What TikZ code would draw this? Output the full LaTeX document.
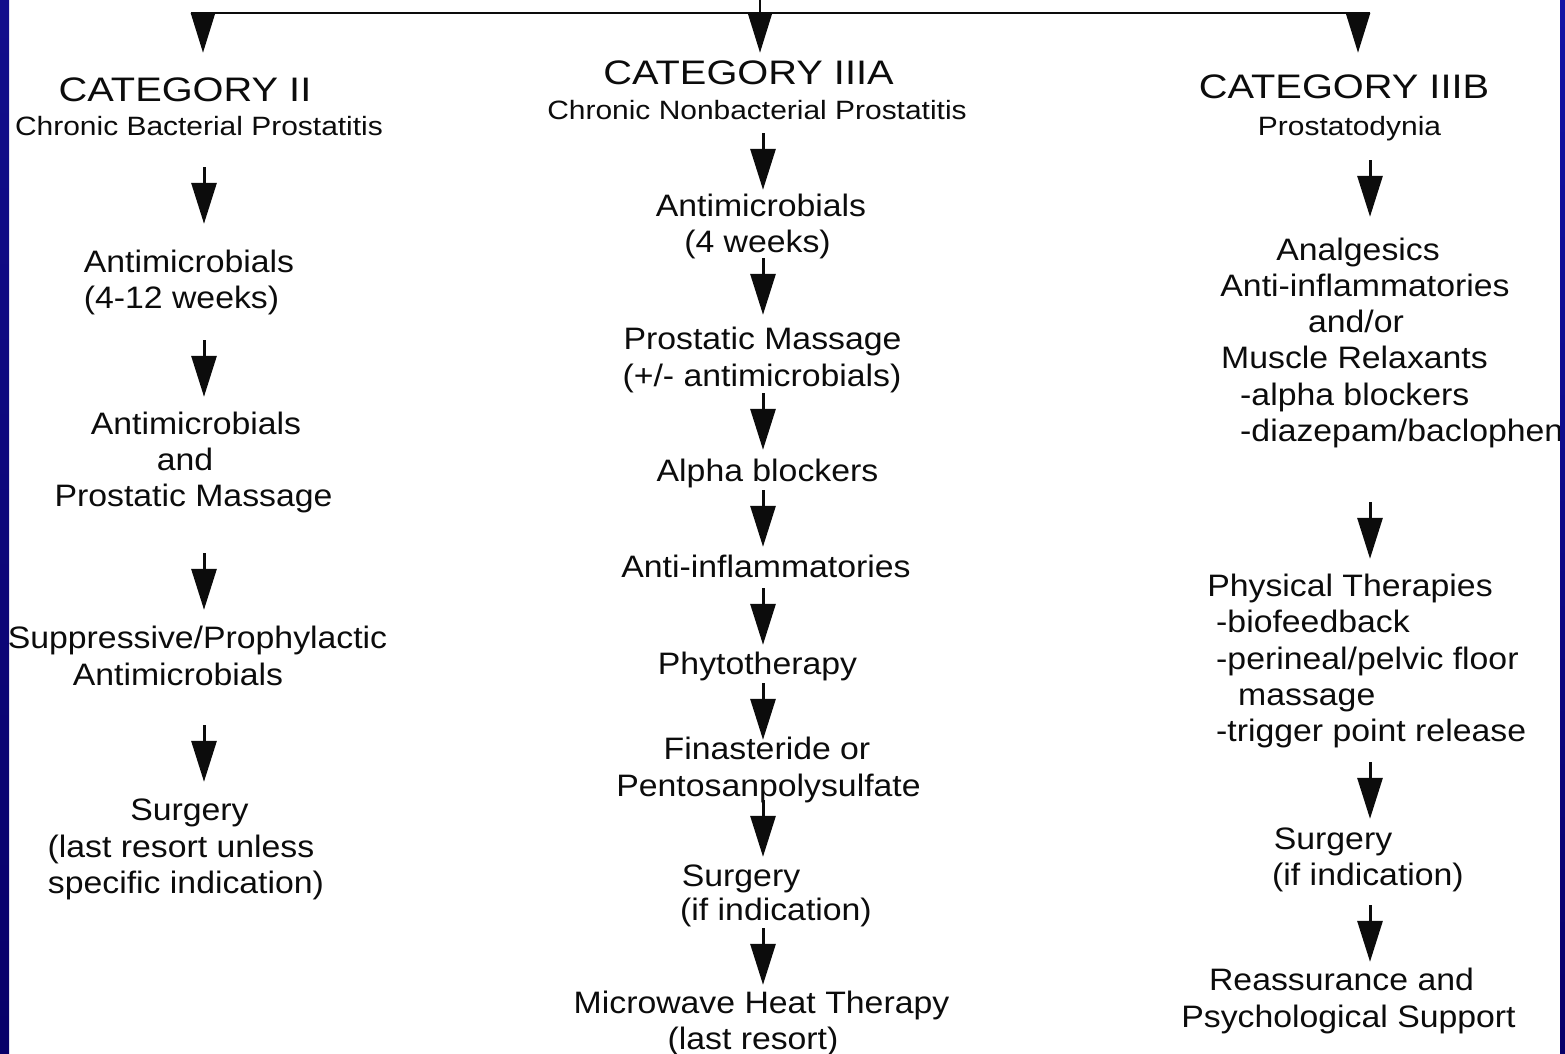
\documentclass[tikz,border=0pt]{standalone}
\usepackage{fontspec}
\setmainfont{Liberation Sans}
\newfontfamily\mainf[FakeStretch=1.09]{Liberation Sans}
\newfontfamily\headf[FakeStretch=1.17]{Liberation Sans}
\newfontfamily\subf[FakeStretch=1.13]{Liberation Sans}
\usetikzlibrary{arrows.meta}
\definecolor{ink}{RGB}{12,12,12}
\definecolor{frameTop}{RGB}{18,14,140}
\definecolor{frameBot}{RGB}{8,0,105}
\definecolor{frameR}{RGB}{20,20,165}
\begin{document}
\begin{tikzpicture}[x=1pt,y=-1pt,
  txt/.style={inner sep=0pt, anchor=base, text height=23pt, text depth=7pt, text=ink,
              font=\mainf\fontsize{31pt}{36pt}\selectfont},
  txtl/.style={txt, anchor=base west},
  head/.style={inner sep=0pt, anchor=base, text height=25pt, text depth=1pt, text=ink,
              font=\headf\fontsize{34pt}{38pt}\selectfont},
  sub/.style={inner sep=0pt, anchor=base, text height=19pt, text depth=5pt, text=ink,
              font=\subf\fontsize{26.5pt}{30pt}\selectfont},
  arr/.style={draw=ink, line width=3pt, -{Triangle[width=25pt,length=41pt]}},
  toparr/.style={draw=ink, line width=2.8pt, -{Triangle[width=24pt,length=40pt]}},
  bus/.style={draw=ink, line width=2.8pt}]
\useasboundingbox (0,0) rectangle (1565,1053);
\fill[white] (0,0) rectangle (1565,1053);

% column axes
\coordinate (X1) at (204,0);
\coordinate (X2) at (763,0);
\coordinate (X3) at (1370,0);

% ---------- column 1 ----------
\node[head] (cat1) at (185,101.7) {CATEGORY II};
\node[sub]  (sub1) at (199,135.5) {Chronic Bacterial Prostatitis};
\node[txt] (c1a1) at (189,272.5) {Antimicrobials};
\node[txt] (c1a2) at (181.5,308.5) {(4-12 weeks)};
\node[txt] (c1b1) at (196,434.5) {Antimicrobials};
\node[txt] (c1b2) at (185,470.5) {and};
\node[txt] (c1b3) at (193.5,506.5) {Prostatic Massage};
\node[txt] (c1c1) at (197.5,648.5) {Suppressive/Prophylactic};
\node[txt] (c1c2) at (178,685.5) {Antimicrobials};
\node[txt] (c1d1) at (189.5,820.5) {Surgery};
\node[txt] (c1d2) at (181,857.5) {(last resort unless};
\node[txt] (c1d3) at (186,893.5) {specific indication)};

% ---------- column 2 ----------
\node[head] (cat2) at (748.5,84.3) {CATEGORY IIIA};
\node[sub]  (sub2) at (757,119) {Chronic Nonbacterial Prostatitis};
\node[txt] (c2a1) at (761,216.5) {Antimicrobials};
\node[txt] (c2a2) at (757.5,252.5) {(4 weeks)};
\node[txt] (c2b1) at (762.5,349.5) {Prostatic Massage};
\node[txt] (c2b2) at (762,386.5) {(+/- antimicrobials)};
\node[txt] (c2c)  at (767.5,481.5) {Alpha blockers};
\node[txt] (c2d)  at (766,577.5) {Anti-inflammatories};
\node[txt] (c2e)  at (757.5,674.5) {Phytotherapy};
\node[txt] (c2f1) at (767,759.5) {Finasteride or};
\node[txt] (c2f2) at (768.5,796.5) {Pentosanpolysulfate};
\node[txt] (c2g1) at (741,886.5) {Surgery};
\node[txt] (c2g2) at (776,920.5) {(if indication)};
\node[txt] (c2h1) at (761.5,1013.5) {Microwave Heat Therapy};
\node[txt] (c2h2) at (753,1049.5) {(last resort)};

% ---------- column 3 ----------
\node[head] (cat3) at (1344,98.3) {CATEGORY IIIB};
\node[sub]  (sub3) at (1349.5,135.5) {Prostatodynia};
\node[txt]  (c3a1) at (1358,260.5) {Analgesics};
\node[txt]  (c3a2) at (1365,296.5) {Anti-inflammatories};
\node[txt]  (c3a3) at (1356,332.5) {and/or};
\node[txt]  (c3a4) at (1354.5,368.5) {Muscle Relaxants};
\node[txtl] (c3a5) at (1240,405.5) {-alpha blockers};
\node[txtl] (c3a6) at (1240,441.5) {-diazepam/baclophen};
\node[txt]  (c3b1) at (1350,596.5) {Physical Therapies};
\node[txtl] (c3b2) at (1216,632.5) {-biofeedback};
\node[txtl] (c3b3) at (1216,669.5) {-perineal/pelvic floor};
\node[txtl] (c3b4) at (1238,705.5) {massage};
\node[txtl] (c3b5) at (1216,741.5) {-trigger point release};
\node[txt]  (c3c1) at (1333,849.5) {Surgery};
\node[txt]  (c3c2) at (1368,885.5) {(if indication)};
\node[txt]  (c3d1) at (1341.5,990.5) {Reassurance and};
\node[txt]  (c3d2) at (1348.5,1027.5) {Psychological Support};

% ---------- top distribution ----------
\coordinate (src) at (760,0);
\coordinate (jM) at (760,13);
\coordinate (jL) at (191,13);
\coordinate (jR) at (1370,13);
\coordinate (j1) at (203,13);
\coordinate (j3) at (1358,13);
\draw[bus] (jL) -- (jR);
\draw[bus] (src) -- (jM);
\draw[toparr, shorten >=23.7pt] (j1) -- (j1 |- cat1.north);
\draw[toparr, shorten >=6.3pt]  (jM) -- (jM |- cat2.north);
\draw[toparr, shorten >=20.3pt] (j3) -- (j3 |- cat3.north);

% ---------- column 1 arrows ----------
\draw[arr, shorten <=26.5pt, shorten >=25.5pt] (sub1.south -| X1) -- (c1a1.north -| X1);
\draw[arr, shorten <=24.5pt, shorten >=14.5pt] (c1a2.south -| X1) -- (c1b1.north -| X1);
\draw[arr, shorten <=39.5pt, shorten >=15.5pt] (c1b3.south -| X1) -- (c1c1.north -| X1);
\draw[arr, shorten <=32.5pt, shorten >=15.5pt] (c1c2.south -| X1) -- (c1d1.north -| X1);

% ---------- column 2 arrows ----------
\draw[arr, shorten <=9pt, shorten >=3.5pt] (sub2.south -| X2) -- (c2a1.north -| X2);
\draw[arr, shorten <=-1.5pt, shorten >=11.5pt] (c2a2.south -| X2) -- (c2b1.north -| X2);
\draw[arr, shorten <=-0.5pt, shorten >=8.5pt] (c2b2.south -| X2) -- (c2c.north -| X2);
\draw[arr, shorten <=1.5pt, shorten >=7.5pt] (c2c.south -| X2) -- (c2d.north -| X2);
\draw[arr, shorten <=3.5pt, shorten >=6.5pt] (c2d.south -| X2) -- (c2e.north -| X2);
\draw[arr, shorten <=1.5pt, shorten >=-3.5pt] (c2e.south -| X2) -- (c2f1.north -| X2);
\draw[arr, shorten <=-3.5pt, shorten >=6.5pt] (c2f2.south -| X2) -- (c2g1.north -| X2);
\draw[arr, shorten <=0.5pt, shorten >=5.5pt] (c2g2.south -| X2) -- (c2h1.north -| X2);

% ---------- column 3 arrows ----------
\draw[arr, shorten <=19.5pt, shorten >=20.5pt] (sub3.south -| X3) -- (c3a1.north -| X3);
\draw[arr, shorten <=53.5pt, shorten >=14.5pt] (c3a6.south -| X3) -- (c3b1.north -| X3);
\draw[arr, shorten <=13.5pt, shorten >=7.5pt] (c3b5.south -| X3) -- (c3c1.north -| X3);
\draw[arr, shorten <=12.5pt, shorten >=5.5pt] (c3c2.south -| X3) -- (c3d1.north -| X3);

% ---------- blue frame edges ----------
\shade[top color=frameTop, bottom color=frameBot] (0,0) rectangle (9,1053);
\shade[top color=frameR, bottom color=frameBot] (1560,0) rectangle (1565,1053);
\end{tikzpicture}
\end{document}
